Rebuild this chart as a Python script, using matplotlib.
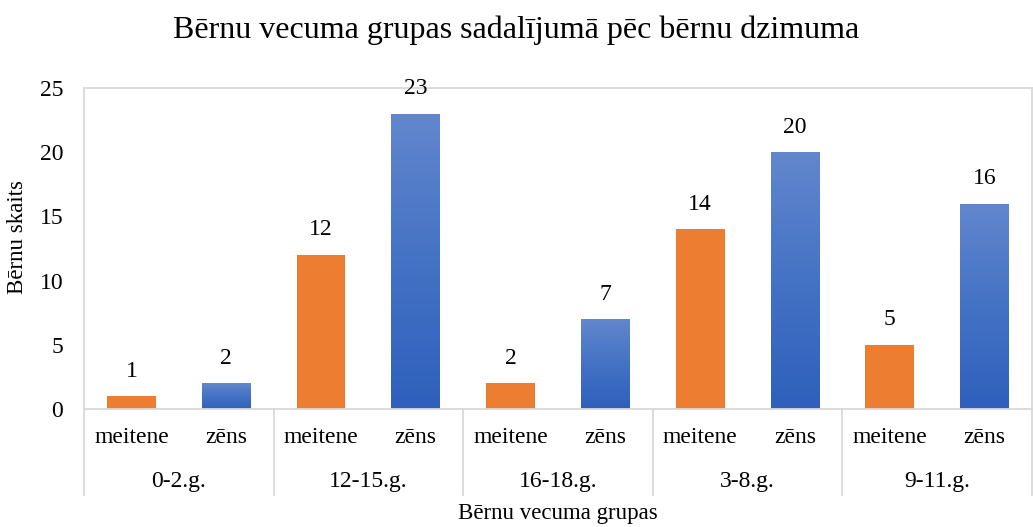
import numpy as np
import matplotlib.pyplot as plt
from matplotlib.transforms import blended_transform_factory
from matplotlib.colors import LinearSegmentedColormap

groups = ['0-2.g.', '12-15.g.', '16-18.g.', '3-8.g.', '9-11.g.']
sexes = ['meitene', 'zēns']
meitene = [1, 12, 2, 14, 5]
zens = [2, 23, 7, 20, 16]

plt.rcParams['font.family'] = ['Liberation Serif', 'DejaVu Serif']

fig = plt.figure(figsize=(10.33, 5.27), dpi=100)
ax = fig.add_axes([84/1033, 1-409/527, (1032-84)/1033, (409-88)/527])

orange = '#ED7D31'
blue_cmap = LinearSegmentedColormap.from_list('b', ['#2E60BC', '#4472C4', '#6287CD'])
grad = np.linspace(0, 1, 256).reshape(-1, 1)

labels = []
values = []
for g, m, z in zip(groups, meitene, zens):
    values += [m, z]
    labels += sexes

x = np.arange(len(values)) + 0.5
w = 0.515
for i, v in enumerate(values):
    if i % 2 == 0:
        ax.bar(x[i], v, width=w, color=orange, zorder=2)
    else:
        b = ax.bar(x[i], v, width=w, color='none', zorder=2)[0]
        im = ax.imshow(grad, extent=(x[i]-w/2, x[i]+w/2, 0, v), origin='lower',
                       cmap=blue_cmap, aspect='auto', zorder=2)
        im.set_clip_path(b)
    ax.text(x[i], v + 1.95, str(v), ha='center', va='center', fontsize=17)

ax.set_xlim(0, len(values))
ax.set_ylim(0, 25)
ax.set_yticks(range(0, 26, 5))
ax.set_xticks(x)
ax.set_xticklabels(labels)
ax.tick_params(axis='both', length=0, labelsize=17)
ax.tick_params(axis='x', pad=13)
ax.tick_params(axis='y', pad=15)

for s in ax.spines.values():
    s.set_color('#D9D9D9')
    s.set_linewidth(1.3)

trans = blended_transform_factory(ax.transData, ax.transAxes)
sep_bottom = -(495-409) / (409-88)
for k in range(len(groups) + 1):
    ax.plot([2*k, 2*k], [0, sep_bottom], transform=trans, color='#D9D9D9',
            lw=1.3, clip_on=False)
for k, g in enumerate(groups):
    ax.text(2*k + 1, -(482-409) / (409-88), g, transform=trans, ha='center',
            va='center', fontsize=17)

ax.text(0.5, -(514-409) / (409-88), 'Bērnu vecuma grupas', transform=ax.transAxes,
        ha='center', va='center', fontsize=16.5)
fig.text(18/1033, 1-237/527, 'Bērnu skaits', rotation=90, ha='center', va='center',
         fontsize=16.5)
fig.text(0.5, 1-30/527, 'Bērnu vecuma grupas sadalījumā pēc bērnu dzimuma',
         ha='center', va='center', fontsize=23)

fig.savefig('out.png', dpi=100)
